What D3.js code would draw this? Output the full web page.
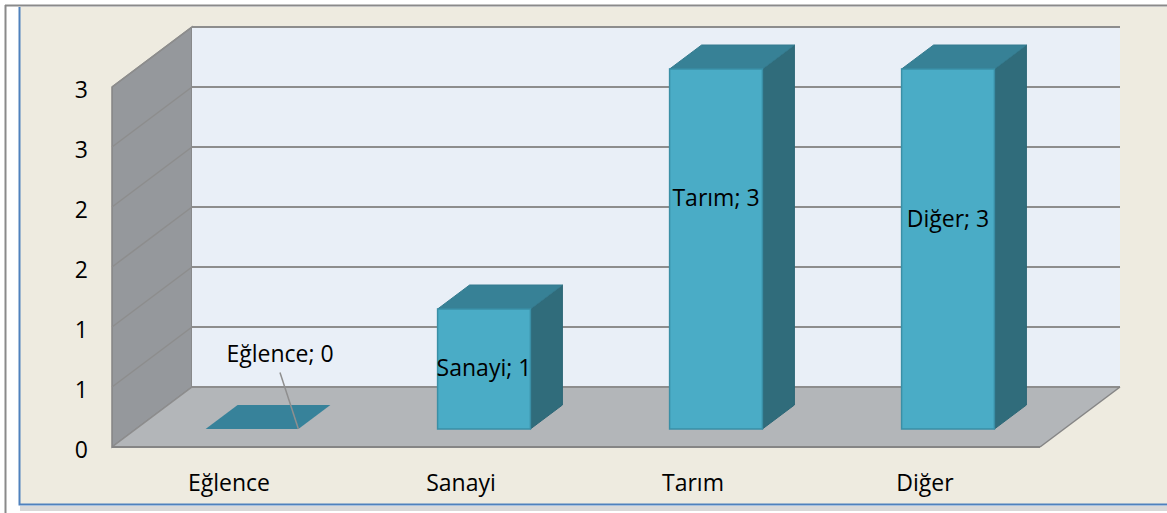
<!DOCTYPE html>
<html>
<head>
<meta charset="utf-8">
<script src="https://cdn.jsdelivr.net/npm/d3@7"></script>
<style>
  html, body { margin: 0; padding: 0; background: #ffffff; }
  svg { display: block; }
  text { font-family: "Open Sans", sans-serif; fill: #000; }
</style>
</head>
<body>
<svg id="chart" width="1167" height="513"></svg>
<script>
// data
const categories = ["Eğlence", "Sanayi", "Tarım", "Diğer"];
const values = [0, 1, 3, 3];
const yTicks = [0, 0.5, 1, 1.5, 2, 2.5, 3];
// where Excel dropped the data labels, in value units along each bar
const labelAt = [0.63, 0.52, 1.93, 1.76];

let svg = d3.select("#chart");

// frame
svg.append("rect").attr("x", 0).attr("y", 0).attr("width", 1167).attr("height", 513).attr("fill", "#fff");
svg.append("rect").attr("x", 20).attr("y", 7).attr("width", 1147).attr("height", 497).attr("fill", "#eeebe0");
svg.append("line").attr("x1", 5).attr("x2", 1167).attr("y1", 5.5).attr("y2", 5.5)
    .attr("stroke", "#8a8a8a").attr("stroke-width", 2);
svg.append("line").attr("x1", 5.5).attr("x2", 5.5).attr("y1", 5).attr("y2", 513)
    .attr("stroke", "#8a8a8a").attr("stroke-width", 2);
svg.append("rect").attr("x", 20).attr("y", 506).attr("width", 1147).attr("height", 5).attr("fill", "#d9d9d9");
svg.append("path").attr("d", "M19.5,7 V504.5 H1167")
    .attr("fill", "none").attr("stroke", "#4f81bd").attr("stroke-width", 2);

// scales
let y = d3.scaleLinear().domain([0, 3]).range([447, 87]);
let x = d3.scaleBand().domain(categories).range([112, 1040]);

const depth = 60;          // floor depth in screen px (vertical)
const slope = 4 / 3;       // horizontal shift per px of depth
const barFront = 18, barBack = 42;
const barW = x.bandwidth() * 0.4;

// project a point on the front plane back by d
function p(px, py, d) {
    return [px + d * slope, py - d];
}
function poly(pts) {
    return pts.map(q => q.join(",")).join(" ");
}

let gridColor = "#8d8d8d";

// side wall
svg.append("polygon")
    .attr("points", poly([[112, y(0)], [112, y(3)], p(112, y(3), depth), p(112, y(0), depth)]))
    .attr("fill", "#95989c").attr("stroke", "#848484").attr("stroke-width", 1.5);

// back wall
let bl = p(112, y(3), depth);
svg.append("rect")
    .attr("x", bl[0]).attr("y", bl[1])
    .attr("width", 1040 - 112).attr("height", y(0) - y(3))
    .attr("fill", "#e9eff7");

// floor
svg.append("polygon")
    .attr("points", poly([[112, y(0)], [1040, y(0)], p(1040, y(0), depth), p(112, y(0), depth)]))
    .attr("fill", "#b3b6b9");

// gridlines
yTicks.forEach(v => {
    let a = p(112, y(v), depth);
    svg.append("line")
        .attr("x1", a[0]).attr("y1", a[1])
        .attr("x2", a[0] + 928).attr("y2", a[1])
        .attr("stroke", gridColor).attr("stroke-width", 2);
    svg.append("line")
        .attr("x1", 112).attr("y1", y(v))
        .attr("x2", a[0]).attr("y2", a[1])
        .attr("stroke", gridColor).attr("stroke-width", 1.5);
});
// floor edges
svg.append("line").attr("x1", 112).attr("y1", y(0)).attr("x2", 1040).attr("y2", y(0))
    .attr("stroke", "#858585").attr("stroke-width", 2);
let fr = p(1040, y(0), depth);
svg.append("line").attr("x1", 1040).attr("y1", y(0)).attr("x2", fr[0]).attr("y2", fr[1])
    .attr("stroke", "#858585").attr("stroke-width", 1.5);

// bars
let bars = svg.append("g");
categories.forEach((c, i) => {
    let cx = x(c) + x.bandwidth() / 2;
    let l = cx - barW / 2, r = cx + barW / 2;
    let top = y(values[i]), bot = y(0);
    let fl = p(l, top, barFront), fr2 = p(r, top, barFront);
    let bl2 = p(l, top, barBack), br = p(r, top, barBack);
    let fb = p(r, bot, barFront), bb = p(r, bot, barBack);
    if (values[i] > 0) {
        // side
        bars.append("polygon").attr("points", poly([fr2, br, bb, fb]))
            .attr("fill", "#306c7b").attr("stroke", "#2c6676").attr("stroke-width", 1);
        // top
        bars.append("polygon").attr("points", poly([fl, fr2, br, bl2]))
            .attr("fill", "#378196").attr("stroke", "#347b8f").attr("stroke-width", 1);
        // front
        let fbl = p(l, bot, barFront);
        bars.append("rect")
            .attr("x", fl[0]).attr("y", fl[1])
            .attr("width", barW).attr("height", fbl[1] - fl[1])
            .attr("fill", "#4aacc6").attr("stroke", "#3a8fa6").attr("stroke-width", 1.5);
    } else {
        bars.append("polygon").attr("points", poly([fl, fr2, br, bl2]))
            .attr("fill", "#37829a");
    }
});

// data labels
categories.forEach((c, i) => {
    let cx = x(c) + x.bandwidth() / 2;
    let q = p(cx, y(labelAt[i]), barFront);
    let lx = q[0], ly = q[1];
    if (values[i] === 0) {
        // label pushed aside with a leader line to the flat bar
        lx += 28;
        let corner = p(cx + barW / 2, y(0), barFront);
        svg.append("line")
            .attr("x1", lx).attr("y1", ly + 19)
            .attr("x2", corner[0]).attr("y2", corner[1])
            .attr("stroke", "#8f8f8f").attr("stroke-width", 1.5);
    }
    svg.append("text")
        .attr("x", lx).attr("y", ly)
        .attr("text-anchor", "middle")
        .attr("dominant-baseline", "central")
        .attr("font-size", 23)
        .text(c + "; " + values[i]);
});

// y axis labels
svg.append("g").selectAll("text")
    .data(yTicks)
    .enter().append("text")
    .attr("x", 88)
    .attr("y", d => y(d) + 2)
    .attr("text-anchor", "end")
    .attr("dominant-baseline", "central")
    .attr("font-size", 23)
    .text(d => d3.format(".0f")(Math.round(d)));

// category labels
svg.append("g").selectAll("text")
    .data(categories)
    .enter().append("text")
    .attr("x", d => x(d) + x.bandwidth() / 2 + 1)
    .attr("y", 482)
    .attr("text-anchor", "middle")
    .attr("dominant-baseline", "central")
    .attr("font-size", 23)
    .text(d => d);
</script>
</body>
</html>
